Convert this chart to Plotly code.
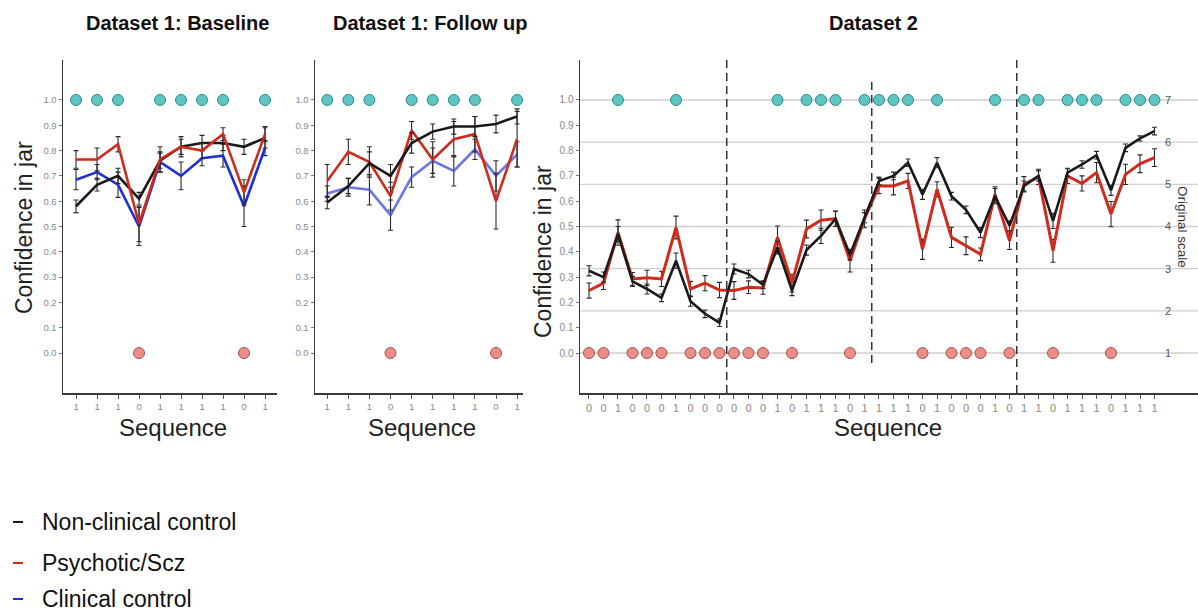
import plotly.graph_objects as go

W, H = 1198, 613

# ---------------- data ----------------
seq_d1 = [1, 1, 1, 0, 1, 1, 1, 1, 0, 1]

base_nc = [0.58, 0.665, 0.70, 0.61, 0.76, 0.815, 0.83, 0.83, 0.815, 0.85]
base_nc_err = [0.025, 0.025, 0.03, 0.025, 0.03, 0.03, 0.03, 0.03, 0.03, 0.04]
base_psy = [0.765, 0.765, 0.825, 0.51, 0.765, 0.815, 0.80, 0.865, 0.635, 0.865]
base_psy_err = [0.035, 0.045, 0.03, 0.07, 0.05, 0.04, 0.03, 0.025, 0.05, 0.03]
base_cc = [0.685, 0.715, 0.665, 0.50, 0.755, 0.70, 0.77, 0.78, 0.58, 0.81]
base_cc_err = [0.04, 0.03, 0.05, 0.075, 0.04, 0.055, 0.03, 0.045, 0.08, 0.03]

fu_nc = [0.595, 0.66, 0.75, 0.70, 0.83, 0.875, 0.895, 0.895, 0.905, 0.935]
fu_nc_err = [0.025, 0.03, 0.045, 0.045, 0.04, 0.03, 0.03, 0.04, 0.035, 0.03]
fu_psy = [0.68, 0.795, 0.755, 0.62, 0.88, 0.765, 0.845, 0.865, 0.60, 0.845]
fu_psy_err = [0.065, 0.05, 0.06, 0.055, 0.035, 0.07, 0.07, 0.07, 0.11, 0.11]
fu_cc = [0.63, 0.655, 0.645, 0.545, 0.695, 0.76, 0.72, 0.805, 0.70, 0.785]
fu_cc_err = [0.03, 0.035, 0.06, 0.06, 0.04, 0.05, 0.06, 0.04, 0.06, 0.05]

seq_d2 = [0, 0, 1, 0, 0, 0, 1, 0, 0, 0,
          0, 0, 0, 1, 0, 1, 1, 1, 0, 1,
          1, 1, 1, 0, 1, 0, 0, 0, 1, 0,
          1, 1, 0, 1, 1, 1, 0, 1, 1, 1]
d2_nc = [0.325, 0.30, 0.47, 0.283, 0.253, 0.218, 0.365, 0.205, 0.155, 0.12,
         0.332, 0.312, 0.27, 0.417, 0.247, 0.407, 0.463, 0.53, 0.388, 0.535,
         0.68, 0.70, 0.752, 0.627, 0.752, 0.62, 0.566, 0.476, 0.62, 0.503,
         0.66, 0.70, 0.522, 0.713, 0.745, 0.782, 0.643, 0.811, 0.848, 0.877]
d2_nc_err = [0.02, 0.02, 0.03, 0.02, 0.02, 0.015, 0.03, 0.02, 0.015, 0.015,
             0.02, 0.015, 0.015, 0.025, 0.02, 0.02, 0.03, 0.03, 0.02, 0.02,
             0.015, 0.015, 0.015, 0.02, 0.02, 0.015, 0.015, 0.02, 0.03, 0.02,
             0.02, 0.02, 0.03, 0.015, 0.015, 0.015, 0.02, 0.015, 0.01, 0.015]
d2_psy = [0.247, 0.276, 0.476, 0.293, 0.297, 0.293, 0.496, 0.253, 0.276, 0.249,
          0.247, 0.26, 0.257, 0.457, 0.276, 0.49, 0.525, 0.531, 0.365, 0.53,
          0.66, 0.66, 0.68, 0.41, 0.647, 0.457, 0.424, 0.39, 0.627, 0.444,
          0.667, 0.696, 0.404, 0.70, 0.67, 0.713, 0.549, 0.706, 0.748, 0.772]
d2_psy_err = [0.03, 0.025, 0.05, 0.025, 0.03, 0.03, 0.045, 0.03, 0.03, 0.03,
              0.035, 0.025, 0.025, 0.045, 0.035, 0.035, 0.04, 0.03, 0.045, 0.035,
              0.03, 0.035, 0.03, 0.04, 0.03, 0.04, 0.035, 0.025, 0.03, 0.035,
              0.03, 0.03, 0.045, 0.03, 0.03, 0.04, 0.05, 0.04, 0.035, 0.035]

block_bounds = [9.5, 19.5, 29.5]
orig_scale = [1, 2, 3, 4, 5, 6, 7]
conf_ticks = [0.0, 0.1, 0.2, 0.3, 0.4, 0.5, 0.6, 0.7, 0.8, 0.9, 1.0]

titles = ["Dataset 1: Baseline", "Dataset 1: Follow up", "Dataset 2"]
legend_labels = ["Non-clinical control", "Psychotic/Scz", "Clinical control"]

# ---------------- styles ----------------
BLACK = "#1a1a1a"
RED = "#cf2a1c"
BLUE = "#1f2fd6"
BLUE_LIGHT = "rgba(70,85,225,0.8)"
TEAL = "#5ec4c4"
TEAL_EDGE = "#2d8c8c"
PINK = "#ec8d88"
PINK_EDGE = "#a9504c"
TICK_GREY = "#8a8a8a"
FONT = "Liberation Sans, Arial, sans-serif"


def px(x):
    return x / W


def py(y):
    return 1 - y / H


Y_TOP, Y_BOT = 60, 393
YR = [-0.158, 1.158]

fig = go.Figure()


def add_dots(seq, xa, ya):
    xs1 = [i for i, s in enumerate(seq) if s == 1]
    xs0 = [i for i, s in enumerate(seq) if s == 0]
    fig.add_trace(go.Scatter(x=xs1, y=[1 for _ in xs1], mode="markers", xaxis=xa, yaxis=ya,
                             marker=dict(size=11, color=TEAL, line=dict(color=TEAL_EDGE, width=1)),
                             showlegend=False, hoverinfo="skip"))
    fig.add_trace(go.Scatter(x=xs0, y=[0 for _ in xs0], mode="markers", xaxis=xa, yaxis=ya,
                             marker=dict(size=11, color=PINK, line=dict(color=PINK_EDGE, width=1)),
                             showlegend=False, hoverinfo="skip"))


def add_line(vals, errs, color, xa, ya, width=2.6, name=None):
    fig.add_trace(go.Scatter(x=list(range(len(vals))), y=vals, mode="lines", xaxis=xa, yaxis=ya,
                             line=dict(color=color, width=width),
                             error_y=dict(type="data", array=errs, visible=True, color="#2a2a2a",
                                          thickness=1.1, width=2.5),
                             showlegend=False, name=name))


# panel 1
add_line(base_cc, base_cc_err, BLUE, "x", "y")
add_line(base_nc, base_nc_err, BLACK, "x", "y")
add_line(base_psy, base_psy_err, RED, "x", "y")
add_dots(seq_d1, "x", "y")
# panel 2
add_line(fu_cc, fu_cc_err, BLUE_LIGHT, "x2", "y2")
add_line(fu_psy, fu_psy_err, RED, "x2", "y2")
add_line(fu_nc, fu_nc_err, BLACK, "x2", "y2")
add_dots(seq_d1, "x2", "y2")
# panel 3
add_line(d2_psy, d2_psy_err, RED, "x3", "y3", width=3)
add_line(d2_nc, d2_nc_err, BLACK, "x3", "y3", width=2.6)
add_dots(seq_d2, "x3", "y3")
# keep the original-scale axis alive
fig.add_trace(go.Scatter(x=[], y=[], xaxis="x3", yaxis="y4", showlegend=False))

common_x = dict(showline=True, linecolor="#3a3a3a", linewidth=1.5, ticks="outside", ticklen=4,
                tickcolor="#555", tickfont=dict(size=9.5, color=TICK_GREY, family=FONT),
                showgrid=False, zeroline=False, automargin=False, fixedrange=True)
common_y = dict(showline=True, linecolor="#3a3a3a", linewidth=1.5, ticks="outside", ticklen=3,
                tickcolor="#777", tickvals=conf_ticks, ticktext=[f"{v:.1f}" for v in conf_ticks],
                tickfont=dict(size=9.5, color=TICK_GREY, family=FONT), range=YR,
                showgrid=False, zeroline=False, automargin=False, fixedrange=True,
                domain=[py(Y_BOT), py(Y_TOP)])

p1 = (63, 277, [-0.62, 9.57])
p2 = (315, 523, [-0.58, 9.28])
p3 = (580, 1198, [-0.62, 42.0])

fig.update_layout(
    xaxis=dict(common_x, domain=[px(p1[0]), px(p1[1])], range=p1[2], anchor="y",
               tickvals=list(range(10)), ticktext=[str(s) for s in seq_d1]),
    xaxis2=dict(common_x, domain=[px(p2[0]), px(p2[1])], range=p2[2], anchor="y2",
                tickvals=list(range(10)), ticktext=[str(s) for s in seq_d1]),
    xaxis3=dict(common_x, domain=[px(p3[0]), px(p3[1])], range=p3[2], anchor="y3",
                tickvals=list(range(len(seq_d2))), ticktext=[str(s) for s in seq_d2],
                tickfont=dict(size=11, color=TICK_GREY, family=FONT)),
    yaxis=dict(common_y, anchor="x"),
    yaxis2=dict(common_y, anchor="x2"),
    yaxis3=dict(common_y, anchor="x3", tickfont=dict(size=10, color=TICK_GREY, family=FONT)),
    yaxis4=dict(overlaying="y3", side="right", anchor="free", position=px(1164),
                range=[1 + 6 * YR[0], 1 + 6 * YR[1]], tickvals=orig_scale,
                showline=False, ticks="", showgrid=False, zeroline=False,
                tickfont=dict(size=11, color="#555", family=FONT), automargin=False,
                fixedrange=True),
    width=W, height=H,
    margin=dict(l=0, r=0, t=0, b=0),
    plot_bgcolor="white", paper_bgcolor="white",
    showlegend=False,
    hovermode=False,
    font=dict(family=FONT),
)

# gridlines in dataset 2 at the original-scale levels
for v in orig_scale:
    fig.add_shape(type="line", xref="x3 domain", yref="y4", x0=0, x1=1, y0=v, y1=v,
                  line=dict(color="#cfcfcf", width=1.3), layer="below")

# block boundaries
dash_extent = [(Y_TOP - 3, Y_BOT), (82, 363), (Y_TOP - 3, Y_BOT)]
for b, (t, bt) in zip(block_bounds, dash_extent):
    fig.add_shape(type="line", xref="x3", yref="paper", x0=b, x1=b, y0=py(bt), y1=py(t),
                  line=dict(color="#333", width=1.5, dash="8px,5px"))

# titles
for txt, cx in zip(titles, [177, 430, 873]):
    fig.add_annotation(text=f"<b>{txt}</b>", x=px(cx), y=py(23), xref="paper", yref="paper",
                       showarrow=False, font=dict(size=20, color="#111", family=FONT),
                       xanchor="center", yanchor="middle")

# axis titles
for cx in [173, 422, 888]:
    fig.add_annotation(text="Sequence", x=px(cx), y=py(427), xref="paper", yref="paper",
                       showarrow=False, font=dict(size=24, color="#222", family=FONT),
                       xanchor="center", yanchor="middle")
for cx, cy in [(24, 228), (543, 252)]:
    fig.add_annotation(text="Confidence in jar", x=px(cx), y=py(cy), xref="paper", yref="paper",
                       showarrow=False, textangle=-90, font=dict(size=23, color="#222", family=FONT),
                       xanchor="center", yanchor="middle")
fig.add_annotation(text="Original scale", x=px(1183), y=py(227), xref="paper", yref="paper",
                   showarrow=False, textangle=90, font=dict(size=13.5, color="#333", family=FONT),
                   xanchor="center", yanchor="middle")

# legend
for lab, col, cy in zip(legend_labels, [BLACK, RED, BLUE], [522, 563, 599]):
    fig.add_shape(type="line", xref="paper", yref="paper", x0=px(13), x1=px(23), y0=py(cy), y1=py(cy),
                  line=dict(color=col, width=2))
    fig.add_annotation(text=lab, x=px(40), y=py(cy), xref="paper", yref="paper",
                       showarrow=False, font=dict(size=23, color="#111", family=FONT),
                       xanchor="left", yanchor="middle")

fig.write_html("out.html", config={"displayModeBar": False, "staticPlot": True},
               post_script="document.body.style.margin='0';document.body.style.overflow='hidden';")
